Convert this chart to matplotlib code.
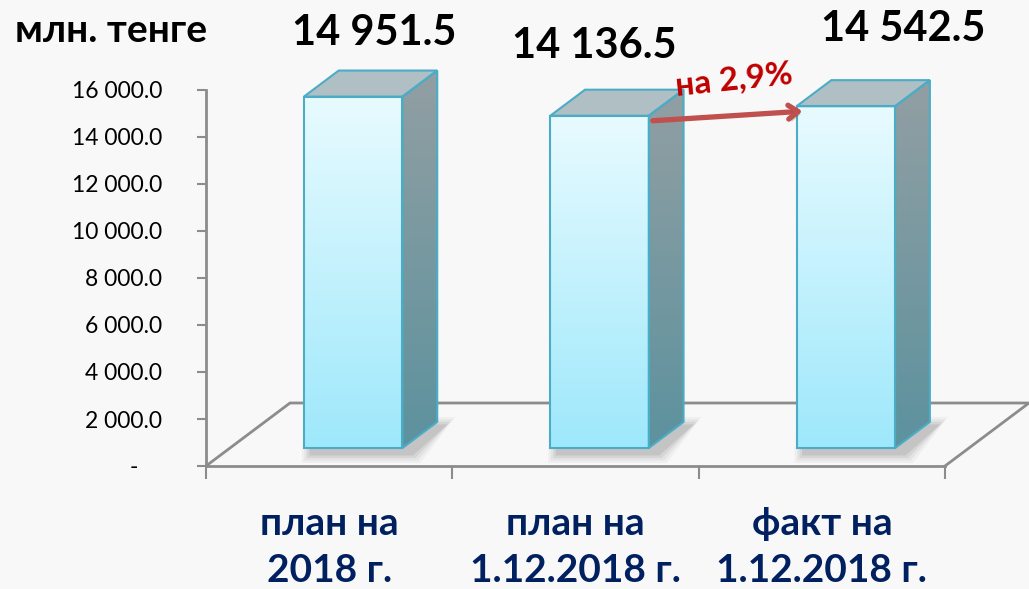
import numpy as np
import matplotlib.pyplot as plt
from matplotlib.patches import Polygon
import matplotlib.patheffects as pe

plt.rcParams['font.family'] = ['Lato', 'Open Sans', 'DejaVu Sans']

categories = ['план на\n2018 г.', 'план на\n1.12.2018 г.', 'факт на\n1.12.2018 г.']
values = [14951.5, 14136.5, 14542.5]
value_labels = ['14 951.5', '14 136.5', '14 542.5']
y_ticks = [0, 2000, 4000, 6000, 8000, 10000, 12000, 14000, 16000]
change_label = 'на 2,9%'

W, H = 1029, 589
fig = plt.figure(figsize=(W / 100, H / 100), dpi=100)
bg = '#f8f8f8'
fig.patch.set_facecolor(bg)
ax = fig.add_axes([0, 0, 1, 1])
ax.set_facecolor(bg)

# scale: pixels per category / per value unit (matches the Excel plot area)
SX = 246.33
SY = 376 / 16000
X0, Y0 = 206, 466
xlim = (-X0 / SX, (W - X0) / SX)
ylim = (-(H - Y0) / SY, Y0 / SY)

# oblique depth of the floor, bars sit between f0 and f1 of it
DX, DY = 84 / SX, 63 / SY
f0, f1 = 0.286, 0.70
bw = 0.4

grid = '#8c8c8c'
edge = '#4bacc6'

# floor
ax.plot([0, DX, 3 + DX, 3], [0, DY, DY, 0], color=grid, lw=2, zorder=1,
        solid_joinstyle='miter')


def vgrad(c_bot, c_top, n=256):
    a = np.array(plt.matplotlib.colors.to_rgb(c_bot))
    b = np.array(plt.matplotlib.colors.to_rgb(c_top))
    t = np.linspace(0, 1, n)[:, None]
    return (a + (b - a) * t)[:, None, :]


dx, dy = (f1 - f0) * DX, (f1 - f0) * DY
tops = []
for i, v in enumerate(values):
    xl = i + 0.5 - bw / 2 + f0 * DX
    xr = xl + bw
    yb = f0 * DY
    yt = yb + v
    tops.append((xl, xr, yb, yt))

    # soft shadow
    for k, a in enumerate([0.05, 0.07, 0.09, 0.12]):
        s = (4 - k) * 2.5
        shx, shy = 8 / SX, -5 / SY
        poly = [(xl + shx - s / SX, yb + shy - s / SY),
                (xr + shx + s / SX, yb + shy - s / SY),
                (xr + dx + shx + s / SX, yb + dy + shy + s / SY),
                (xr + dx + shx - 20 / SX, yb + dy + shy + s / SY),
                (xl + shx - s / SX, yb + shy + 6 / SY)]
        ax.add_patch(Polygon(poly, closed=True, fc='#505050', ec='none',
                             alpha=a, zorder=2))

    # front face
    ax.imshow(vgrad('#9ee8fb', '#e8fbff'), extent=[xl, xr, yb, yt],
              origin='lower', aspect='auto', zorder=4)
    ax.add_patch(Polygon([(xl, yb), (xr, yb), (xr, yt), (xl, yt)], closed=True,
                         fc='none', ec=edge, lw=1.5, zorder=6))

    # side face
    side = Polygon([(xr, yb), (xr + dx, yb + dy), (xr + dx, yt + dy), (xr, yt)],
                   closed=True, fc='none', ec=edge, lw=1.5, zorder=6)
    im = ax.imshow(vgrad('#5c929e', '#929fa3'), extent=[xr, xr + dx, yb, yt + dy],
                   origin='lower', aspect='auto', zorder=4)
    ax.add_patch(side)
    im.set_clip_path(side)

    # top face
    ax.add_patch(Polygon([(xl, yt), (xr, yt), (xr + dx, yt + dy), (xl + dx, yt + dy)],
                         closed=True, fc='#afbfc4', ec=edge, lw=1.5, zorder=5))

# value labels above the bars
label_offsets = [(4, 38), (-23, 44), (40, 51)]
for (xl, xr, yb, yt), lab, (ox, oy) in zip(tops, value_labels, label_offsets):
    ax.annotate(lab, xy=((xl + xr) / 2 + dx / 2, yt + dy),
                xytext=(ox * 0.72, oy * 0.72), textcoords='offset points',
                ha='center', va='center', fontsize=30, fontweight='bold',
                color='black', zorder=8)

# arrow between bar 2 and bar 3
xl2, xr2, yb2, yt2 = tops[1]
xl3, xr3, yb3, yt3 = tops[2]
start = (xr2 + 4 / SX, yt2 - 5 / SY)
end = (xl3 + 6 / SX, yt3 - 5 / SY)
ax.annotate('', xy=end, xytext=start,
            arrowprops=dict(arrowstyle='->,head_length=0.7,head_width=0.5',
                            color='#c0504d', lw=3.8, shrinkA=0, shrinkB=0,
                            path_effects=[pe.SimplePatchShadow(offset=(2, -2), alpha=0.25),
                                          pe.Normal()]),
            zorder=9)
ax.text((start[0] + end[0]) / 2 + 6 / SX, yt2 + 1550, change_label,
        rotation=6, ha='center', va='center', fontsize=24, fontweight='bold',
        color='#c00000', zorder=9)

# axes
for s in ['top', 'right']:
    ax.spines[s].set_visible(False)
ax.spines['left'].set_position(('data', 0))
ax.spines['left'].set_bounds(0, 16000)
ax.spines['left'].set_color(grid)
ax.spines['left'].set_linewidth(2)
ax.spines['bottom'].set_position(('data', 0))
ax.spines['bottom'].set_bounds(0, 3)
ax.spines['bottom'].set_color(grid)
ax.spines['bottom'].set_linewidth(2)
ax.spines['left'].set_zorder(1)
ax.spines['bottom'].set_zorder(1)

ax.set_yticks(y_ticks)
ax.set_yticklabels(['-    ' if t == 0 else f'{t:,.1f}'.replace(',', ' ') for t in y_ticks])
ax.tick_params(axis='y', direction='out', length=6.5, width=1.5, color=grid,
               pad=25, labelsize=16.5, labelcolor='black')
ax.set_xticks([0, 1, 2, 3])
ax.set_xticklabels([])
ax.tick_params(axis='x', direction='out', length=9, width=1.5, color=grid)

for i, c in enumerate(categories):
    ax.text(i + 0.5, -(506 - Y0) / SY, c, ha='center', va='top', fontsize=28,
            fontweight='bold', color='#002060', linespacing=1.42)

fig.text(15 / W, 1 - 30 / H, 'млн. тенге', ha='left', va='center',
         fontsize=28, fontweight='bold', color='black')

ax.set_xlim(*xlim)
ax.set_ylim(*ylim)

plt.savefig('out.png', dpi=100, facecolor=bg)
